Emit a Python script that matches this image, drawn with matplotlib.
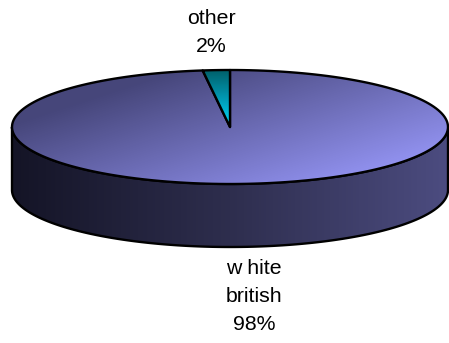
import numpy as np
import matplotlib
matplotlib.use("Agg")
import matplotlib.pyplot as plt
from matplotlib.patches import Polygon
from matplotlib.colors import LinearSegmentedColormap

# Data
labels = ["w hite\nbritish", "other"]
values = [98, 2]

W, H = 449, 343
fig = plt.figure(figsize=(W / 100, H / 100), dpi=100)
ax = fig.add_axes([0, 0, 1, 1])
ax.set_xlim(0, W)
ax.set_ylim(H, 0)
ax.axis("off")

# Ellipse geometry of the 3D pie (pixel space)
cx, cy, a, b, depth = 230, 127, 218, 57, 63


def ring(t0, t1, dy=0.0, n=200):
    t = np.radians(np.linspace(t0, t1, n))
    return np.column_stack([cx + a * np.cos(t), cy - b * np.sin(t) + dy])


yy, xx = np.mgrid[0:H, 0:W] + 0.5


def gradient_fill(poly, field, colors, z):
    cmap = LinearSegmentedColormap.from_list("g", colors)
    im = ax.imshow(np.clip(field, 0, 1), cmap=cmap, vmin=0, vmax=1,
                   extent=(0, W, H, 0), origin="upper", zorder=z,
                   interpolation="bilinear")
    patch = Polygon(poly, closed=True, facecolor="none", edgecolor="none")
    ax.add_patch(patch)
    im.set_clip_path(patch)
    ax.add_patch(Polygon(poly, closed=True, facecolor="none",
                         edgecolor="black", linewidth=1.7, zorder=z + 0.5,
                         joinstyle="round"))


total = float(sum(values))
fracs = [v / total for v in values]
other_span = fracs[1] * 360.0
start = 90.0

# Side wall (front half)
side = np.vstack([ring(180, 360), ring(360, 180, dy=depth)])
side_field = (xx - 12) / 436.0
gradient_fill(side, side_field, ["#141426", "#2e2e4e", "#4c4c80"], 1)

# Top face of the large slice
big = np.vstack([[cx, cy], ring(start + other_span, start + 360)])
top_field = 0.1 + 0.0055 * (yy - 70) + 0.0018 * (xx - 231)
gradient_fill(big, top_field, ["#46467a", "#9898fa"], 3)

# Top face of the small slice
small = np.vstack([[cx, cy], ring(start, start + other_span, n=20)])
small_field = (yy - 72) / 50.0
gradient_fill(small, small_field, ["#00646f", "#0096b0", "#00d0ee"], 5)

# Labels
font = dict(family=["Liberation Sans", "DejaVu Sans"], fontsize=15.3,
            color="black", ha="center", va="center", linespacing=1.6)
pct = [f"{round(f * 100):d}%" for f in fracs]
ax.text(211, 33, f"{labels[1]}\n{pct[1]}", **font)
ax.text(254, 297, f"{labels[0]}\n{pct[0]}", **font)

fig.savefig("out.png", dpi=100)
